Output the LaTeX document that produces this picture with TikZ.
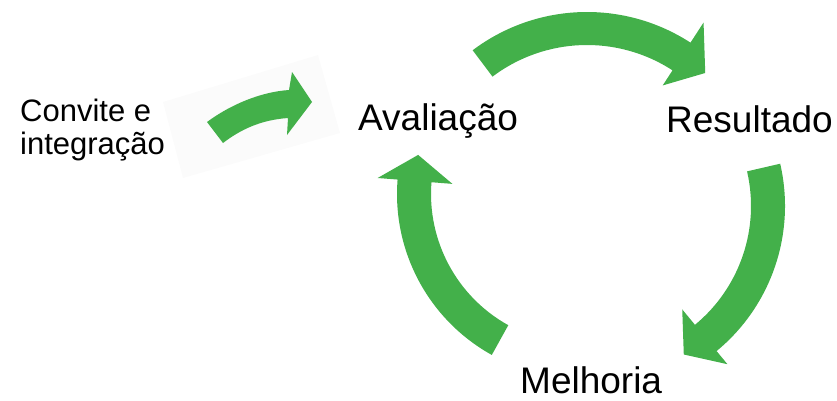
\documentclass[tikz,border=0pt]{standalone}
\usepackage{fontspec}
\setmainfont{Liberation Sans}
\usetikzlibrary{calc}
\definecolor{cyclegreen}{RGB}{67,176,74}
\definecolor{bgpaper}{RGB}{251,251,251}
\tikzset{
  arrowfill/.style={fill=cyclegreen, draw=none},
  biglabel/.style={anchor=base west, inner sep=0pt, font=\fontsize{37}{40}\selectfont},
  smalllabel/.style={anchor=north west, inner sep=0pt, align=left, font=\fontsize{31}{33}\selectfont}
}
% #1 centre, #2 inner r, #3 outer r, #4 tail angle, #5 base angle,
% #6 head inner r, #7 head outer r, #8 tip angle, #9 tip r
\newcommand\cyclearrow[9]{%
  \fill[arrowfill] ($(#1)+(#4:#3pt)$) arc[start angle=#4, end angle=#5, radius=#3pt]
    -- ($(#1)+(#5:#7pt)$) -- ($(#1)+(#8:#9pt)$) -- ($(#1)+(#5:#6pt)$)
    -- ($(#1)+(#5:#2pt)$) arc[start angle=#5, end angle=#4, radius=#2pt] -- cycle;}
\begin{document}
\begin{tikzpicture}[x=1pt,y=1pt]
\useasboundingbox (0,0) rectangle (837,400);
% faint backdrop behind the small arrow
\fill[bgpaper] (163,298) -- (183,222) -- (340,267) -- (318,345) -- cycle;
% small entry arrow
\fill[arrowfill] (207,278) .. controls (230,295) and (260,308) .. (289,310)
  -- (292,328) -- (312,298) -- (287,265) -- (288,282)
  .. controls (260,280) and (240,270) .. (223,257) -- cycle;
% cycle arrows
\coordinate (ctop) at (587,198);
\coordinate (cright) at (597,194);
\coordinate (cleft) at (581,206);
\cyclearrow{ctop}{157}{190}{127}{57}{139}{214}{47.5}{175}
\cyclearrow{cright}{154}{188}{13}{-50.5}{134}{205}{-59.7}{172}
\cyclearrow{cleft}{150}{184}{241}{175.5}{129}{204}{166.5}{167.5}
% labels
\node[smalllabel] (conv) at (20,301) {Convite e\\integração};
\node[biglabel] (aval) at (358,270) {Avaliação};
\node[biglabel] (res) at (666,268) {Resultado};
\node[biglabel] (mel) at (520,7) {Melhoria};
\end{tikzpicture}
\end{document}
